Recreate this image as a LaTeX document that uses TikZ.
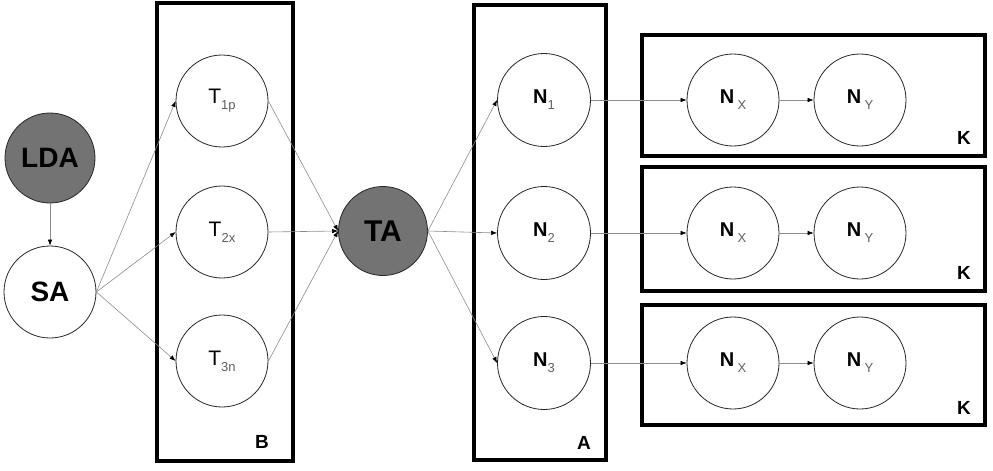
\documentclass[tikz,border=0pt]{standalone}
\usepackage{fontspec}
\setmainfont{Liberation Sans}
\usetikzlibrary{arrows.meta}
\definecolor{fillg}{RGB}{115,115,115}
\definecolor{lineg}{RGB}{140,140,140}
\definecolor{subg}{RGB}{95,95,95}
\newcommand\mysub[1]{\raisebox{-6pt}{\fontsize{13}{13}\selectfont\mdseries\color{subg}#1}}
\begin{document}
\begin{tikzpicture}[x=1pt,y=-1pt,
  state/.style={circle, draw=black!85, line width=0.8pt, minimum size=92pt, inner sep=0pt, fill=white},
  shaded/.style={state, fill=fillg},
  plate/.style={draw=black, line width=3.6pt},
  platelabel/.style={font=\fontsize{19}{19}\selectfont\bfseries, inner sep=0pt},
  big/.style={font=\fontsize{28}{28}\selectfont\bfseries},
  tnode/.style={state, font=\fontsize{21}{21}\selectfont},
  nnode/.style={state, font=\fontsize{20}{20}\selectfont\bfseries},
  conn/.style={draw=lineg, line width=0.6pt, -{Latex[length=6pt,width=4.5pt,color=black]}}
]
\useasboundingbox (0,0) rectangle (993,471);
% plates
\draw[plate] (157,3) rectangle (293,461);
\draw[plate] (474,5) rectangle (606,460);
\draw[plate] (642,35) rectangle (985,156);
\draw[plate] (642,167) rectangle (985,291);
\draw[plate] (642,305) rectangle (985,425);
\node[platelabel] (lb) at (262,442) {B};
\node[platelabel] (la) at (584,443) {A};
\node[platelabel] (lk1) at (964,138) {K};
\node[platelabel] (lk2) at (964,273) {K};
\node[platelabel] (lk3) at (964,408) {K};
% nodes
\node[shaded, big, minimum size=90pt] (lda) at (50,158) {LDA};
\node[state, big] (sa) at (50,292) {SA};
\node[tnode] (t1) at (222,101) {T\mysub{1p}};
\node[tnode] (t2) at (222,232) {T\mysub{2x}};
\node[tnode] (t3) at (222,361) {T\mysub{3n}};
\node[shaded, minimum size=89pt, font=\fontsize{30}{30}\selectfont\bfseries] (ta) at (383,231) {TA};
\node[nnode, minimum size=93pt] (n1) at (544,100) {N\mysub{1}};
\node[nnode, minimum size=93pt] (n2) at (544,233) {N\mysub{2}};
\node[nnode, minimum size=93pt] (n3) at (544,363) {N\mysub{3}};
\node[nnode] (x1) at (733,100) {N\,\mysub{X}};
\node[nnode] (y1) at (860,100) {N\,\mysub{Y}};
\node[nnode] (x2) at (733,233) {N\,\mysub{X}};
\node[nnode] (y2) at (860,233) {N\,\mysub{Y}};
\node[nnode] (x3) at (733,363) {N\,\mysub{X}};
\node[nnode] (y3) at (860,363) {N\,\mysub{Y}};
% connectors
\draw[conn] (lda) -- (sa);
\draw[conn] (sa.east) -- (t1.west);
\draw[conn] (sa.east) -- (t2.west);
\draw[conn] (sa.east) -- (t3.west);
\draw[conn] (t1.east) -- (ta.west);
\draw[conn] (t2.east) -- (ta.west);
\draw[conn] (t3.east) -- (ta.west);
\draw[conn] (ta.east) -- (n1.west);
\draw[conn] (ta.east) -- (n2.west);
\draw[conn] (ta.east) -- (n3.west);
\draw[conn] (n1.east) -- (x1.west);
\draw[conn] (n2.east) -- (x2.west);
\draw[conn] (n3.east) -- (x3.west);
\draw[conn] (x1) -- (y1);
\draw[conn] (x2) -- (y2);
\draw[conn] (x3) -- (y3);
\end{tikzpicture}
\end{document}
